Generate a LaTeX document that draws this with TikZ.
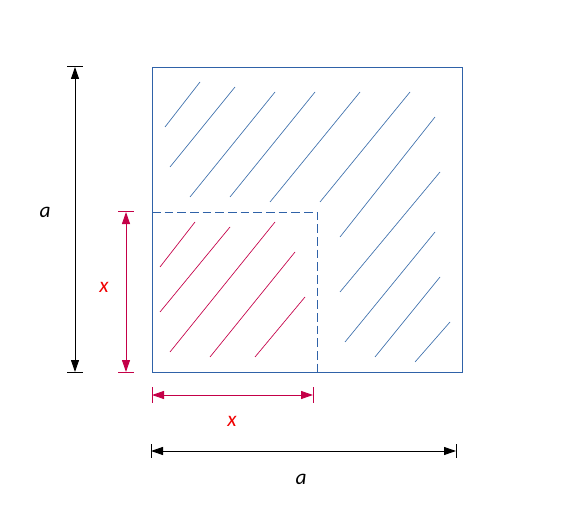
\documentclass[tikz,border=0pt]{standalone}
\usepackage{fontspec}
\setmainfont{Carlito}
\usetikzlibrary{arrows.meta}
\definecolor{boxblue}{RGB}{47,98,168}
\definecolor{hatchblue}{RGB}{62,112,172}
\definecolor{dimred}{RGB}{196,0,72}
\definecolor{labred}{RGB}{240,0,0}
\tikzset{
  dimline/.style={line width=0.75pt,{Triangle[length=9pt,width=6pt]}-{Triangle[length=9pt,width=6pt]}},
  tick/.style={line width=0.75pt},
  lab/.style={font=\fontsize{16}{18}\selectfont\itshape,inner sep=0pt}
}
\begin{document}
\begin{tikzpicture}[x=0.75pt,y=-0.75pt]
    \useasboundingbox (0,0) rectangle (564,524);
    % square and inner square
    \draw[boxblue,line width=0.6pt] (152,67) coordinate (tl) rectangle (462,372) coordinate (br);
    \coordinate (bl) at (152,372);
    \coordinate (inner) at (317,212);
    \draw[boxblue,line width=0.6pt,dash pattern=on 6.5pt off 3pt] (152,212) -| (317,372);
    % hatching
    \foreach \a/\b/\c/\d in {165/127/200/82,170/167/235/87,190/197/275/92,230/197/315/92,
        270/202/360/92,320/202/410/92,340/237/435/117,340/292/440/172,345/342/435/232,
        375/357/440/277,415/362/450/322}
      \draw[hatchblue,line width=0.5pt] (\a,\b) -- (\c,\d);
    \foreach \a/\b/\c/\d in {160/267/195/222,160/312/230/227,170/352/275/222,
        210/357/295/252,255/357/305/297}
      \draw[dimred,line width=0.5pt] (\a,\b) -- (\c,\d);
    % dimension a (left)
    \coordinate (at) at (75,67);
    \coordinate (ab) at (75,372);
    \draw[dimline] (ab) -- (at);
    \draw[tick] (67,67) -- (83,67);
    \draw[tick] (67,372) -- (83,372);
    \node[lab] (alabl) at (45,212) {a};
    % dimension x (left)
    \coordinate (xt) at (126,212);
    \coordinate (xb) at (126,372);
    \draw[dimline,dimred] (xb) -- (xt);
    \draw[tick,dimred] (118,212) -- (134,212);
    \draw[tick,dimred] (118,372) -- (134,372);
    \node[lab,labred] (xlabl) at (104,287) {x};
    % dimension x (bottom)
    \coordinate (xl) at (152,395);
    \coordinate (xr) at (313,395);
    \draw[dimline,dimred] (xl) -- (xr);
    \draw[tick,dimred] (152,387) -- (152,403);
    \draw[tick,dimred] (313,387) -- (313,403);
    \node[lab,labred] (xlabb) at (232,421) {x};
    % dimension a (bottom)
    \coordinate (al) at (151,451);
    \coordinate (ar) at (456,451);
    \draw[dimline] (al) -- (ar);
    \draw[tick] (151,444) -- (151,458);
    \draw[tick] (456,444) -- (456,458);
    \node[lab] (alabb) at (301,479) {a};
\end{tikzpicture}
\end{document}
